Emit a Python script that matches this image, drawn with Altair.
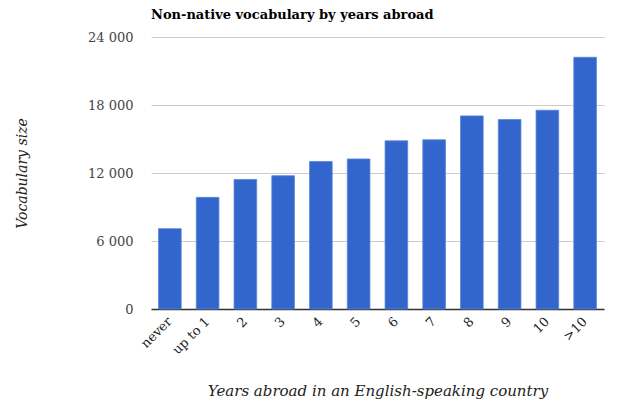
import altair as alt
import pandas as pd

categories = ["never", "up to 1", "2", "3", "4", "5", "6", "7", "8", "9", "10", ">10"]
vocab = [7090, 9850, 11430, 11760, 13020, 13240, 14840, 14930, 17040, 16720, 17540, 22210]
y_ticks = [0, 6000, 12000, 18000, 24000]

df = pd.DataFrame({"years": categories, "vocab": vocab})

FONT = "DejaVu Serif"

chart = alt.Chart(df).mark_bar(color="#3366CC", stroke="#5a85d8", strokeWidth=0.8).encode(
    x=alt.X("years:N", sort=categories,
            scale=alt.Scale(paddingInner=0.4, paddingOuter=0.2),
            axis=alt.Axis(title="Years abroad in an English-speaking country",
                          labelAngle=-45, labelAlign="right", labelBaseline="middle",
                          labelFont=FONT, labelFontSize=13, labelColor="#222",
                          labelPadding=10, ticks=False, domainColor="#333", domainWidth=1.5,
                          titleFont=FONT, titleFontStyle="italic", titleFontWeight="normal",
                          titleFontSize=15, titleColor="#222", titlePadding=27)),
    y=alt.Y("vocab:Q", scale=alt.Scale(domain=[0, 24000], nice=False),
            axis=alt.Axis(title="Vocabulary size", values=y_ticks,
                          labelExpr="replace(format(datum.value, ','), ',', ' ')",
                          labelFont=FONT, labelFontSize=13, labelColor="#444",
                          labelPadding=18, ticks=False, domain=False,
                          gridColor="#cccccc", gridWidth=1,
                          titleFont=FONT, titleFontStyle="italic", titleFontWeight="normal",
                          titleFontSize=14, titleColor="#222", titlePadding=58)),
).properties(
    width=453, height=272,
    title=alt.TitleParams("Non-native vocabulary by years abroad", anchor="start", frame="group",
                          font=FONT, fontSize=13, fontWeight="bold", color="#000", offset=9),
    autosize=alt.AutoSizeParams(type="none"),
    padding={"left": 151, "top": 37, "right": 13, "bottom": 96},
).configure_view(stroke=None)

chart.save("out.html", embed_options={"renderer": "svg", "actions": False})
